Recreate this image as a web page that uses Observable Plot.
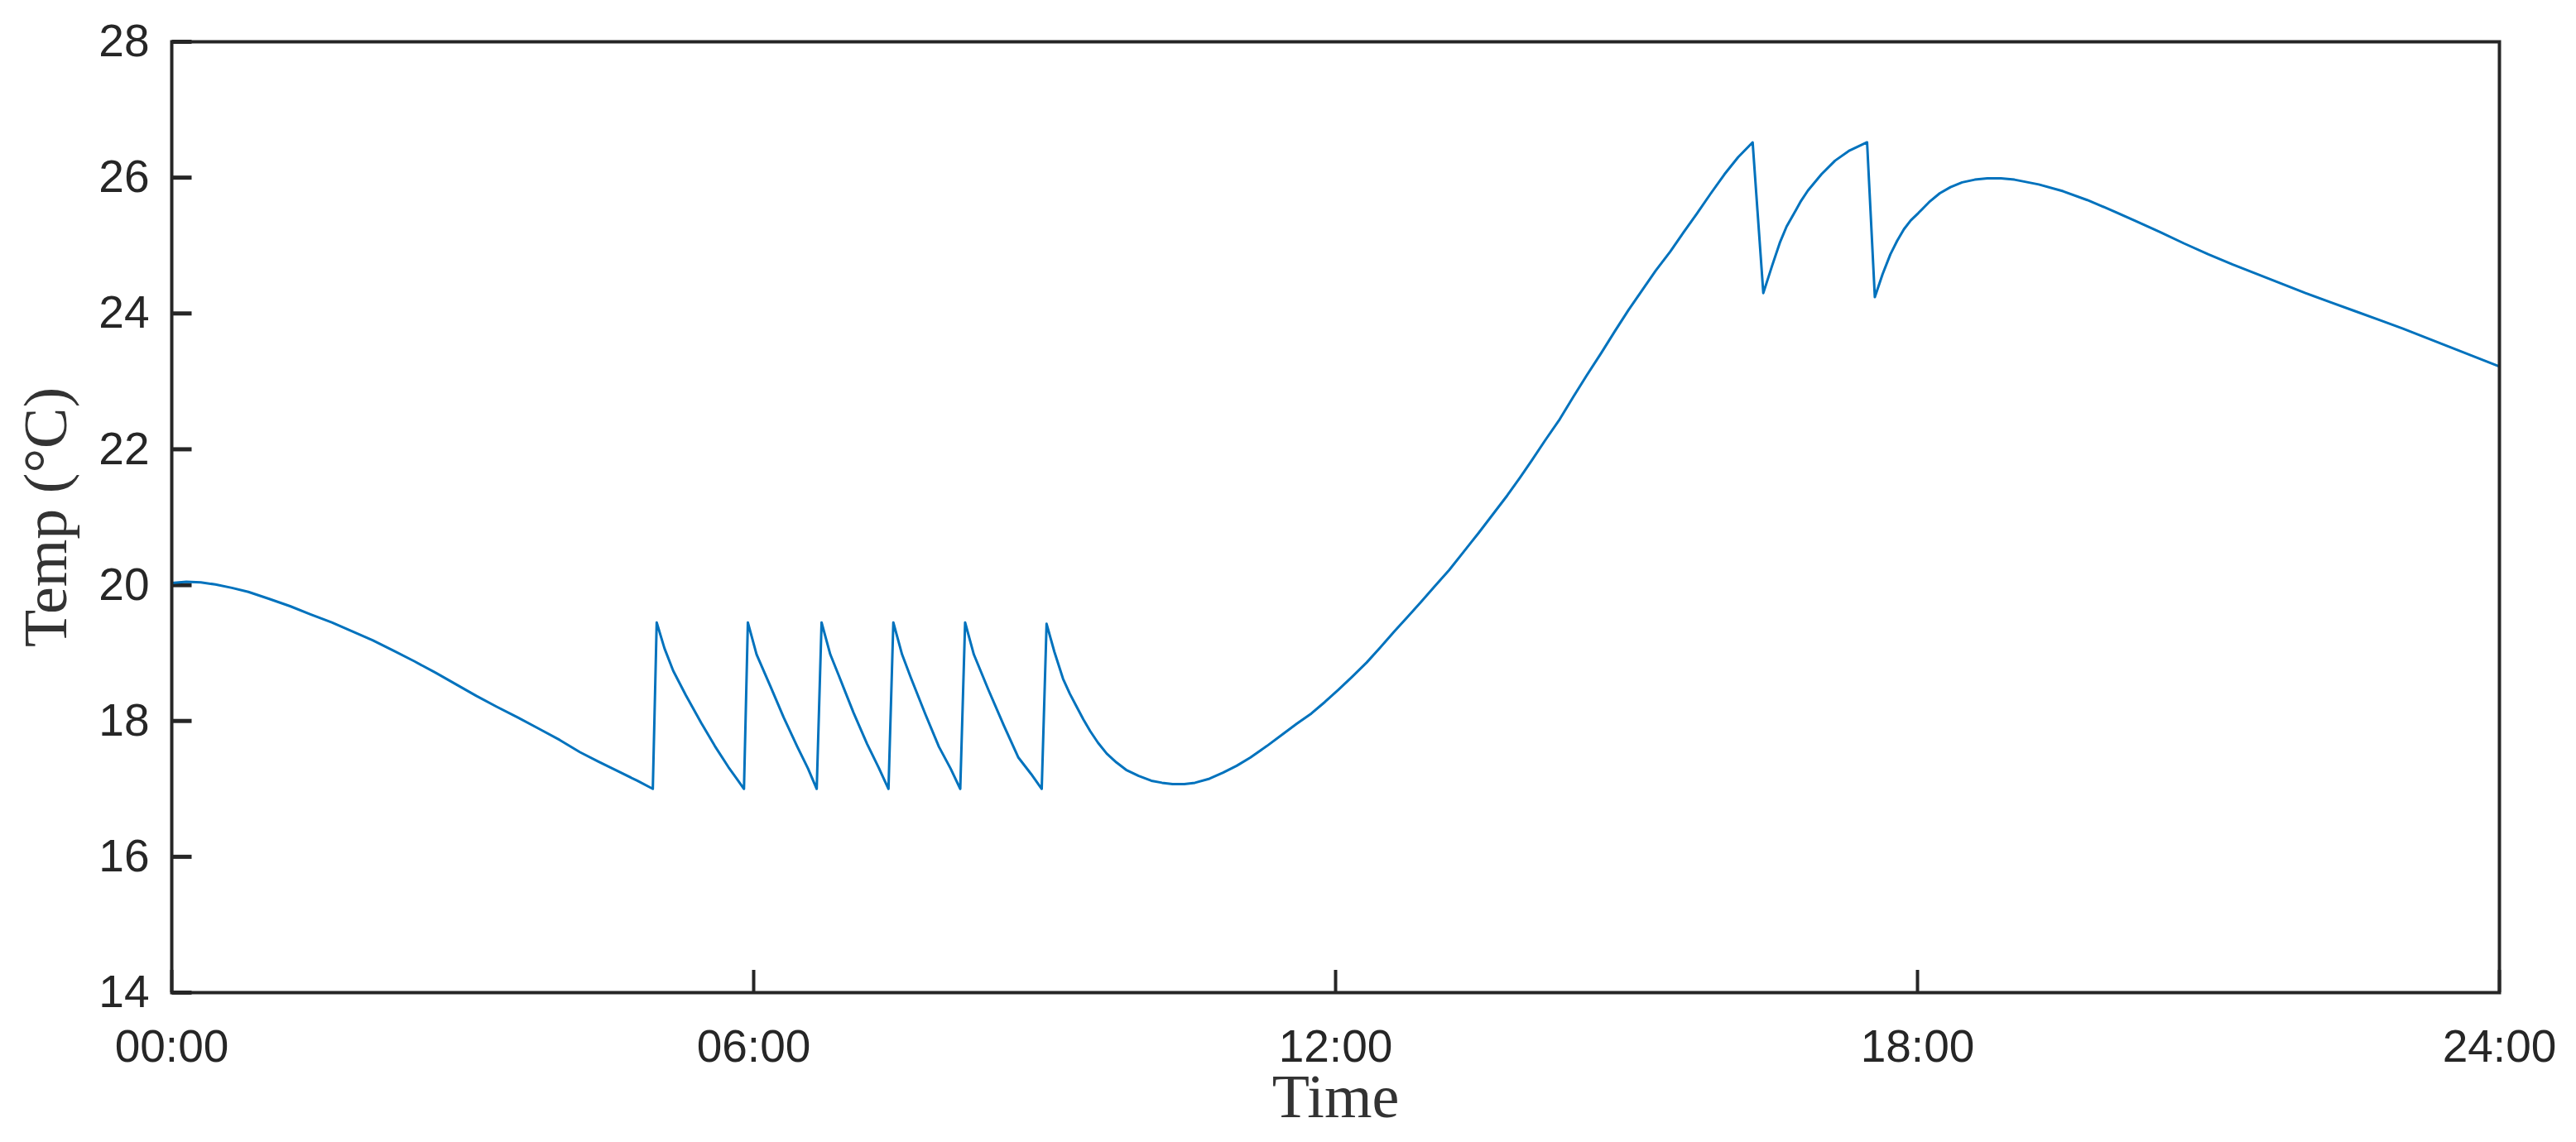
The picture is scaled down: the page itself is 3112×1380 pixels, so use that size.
<!DOCTYPE html>
<html>
<head>
<meta charset="utf-8">
<script src="https://cdn.jsdelivr.net/npm/d3@7"></script>
<script src="https://cdn.jsdelivr.net/npm/@observablehq/plot@0.6"></script>
<style>
  html, body { margin: 0; padding: 0; background: #ffffff; }
  #chart svg { display: block; }
</style>
</head>
<body>
<div id="chart"></div>
<script>
// Time of day in hours
const hours = [
  0.00, 0.15, 0.30, 0.45, 0.62, 0.79, 1.00, 1.22, 1.43, 1.65, 1.86, 2.07, 2.28, 2.50,
  2.72, 2.93, 3.14, 3.35, 3.57, 3.78, 4.00, 4.21, 4.40, 4.60, 4.80, 4.96,
  5.00, 5.08, 5.17, 5.30, 5.46, 5.60, 5.74, 5.82, 5.90,
  5.94, 6.03, 6.17, 6.31, 6.45, 6.56, 6.65,
  6.70, 6.79, 6.88, 7.03, 7.17, 7.29, 7.39,
  7.44, 7.53, 7.62, 7.77, 7.91, 8.03, 8.13,
  8.18, 8.27, 8.42, 8.58, 8.73, 8.86, 8.97,
  9.02, 9.10, 9.19, 9.26, 9.33, 9.40, 9.47, 9.55, 9.64, 9.74, 9.84, 9.97, 10.10, 10.21,
  10.32, 10.44, 10.55, 10.70, 10.84, 10.98, 11.12, 11.29, 11.46, 11.60, 11.75, 11.89,
  12.03, 12.17, 12.32, 12.46, 12.60, 12.74, 12.88, 13.02, 13.17, 13.32, 13.47, 13.62,
  13.77, 13.90, 14.02, 14.16, 14.31, 14.45, 14.59, 14.74, 14.88, 15.02, 15.16, 15.30,
  15.45, 15.59, 15.73, 15.87, 16.01, 16.15, 16.30,
  16.41, 16.50, 16.58, 16.65, 16.73, 16.80, 16.87, 17.01, 17.15, 17.30, 17.48,
  17.56, 17.64, 17.72, 17.79, 17.86, 17.93, 18.01, 18.12, 18.23, 18.34, 18.46, 18.59,
  18.72, 18.86, 19.00, 19.25, 19.50, 19.75, 20.00, 20.25, 20.50, 20.75, 21.00, 21.25,
  21.50, 21.75, 22.00, 22.25, 22.50, 22.75, 23.00, 23.25, 23.50, 23.75, 24.00
];
// Temperature in °C
const temps = [
  20.03, 20.05, 20.04, 20.01, 19.96, 19.90, 19.80, 19.69, 19.57, 19.45, 19.32, 19.19, 19.04, 18.88,
  18.71, 18.54, 18.37, 18.21, 18.05, 17.89, 17.72, 17.54, 17.40, 17.26, 17.12, 17.00,
  19.45, 19.07, 18.74, 18.38, 17.97, 17.63, 17.32, 17.16, 17.00,
  19.45, 18.98, 18.52, 18.05, 17.62, 17.30, 17.00,
  19.45, 18.98, 18.66, 18.12, 17.66, 17.31, 17.00,
  19.45, 18.98, 18.64, 18.10, 17.62, 17.30, 17.00,
  19.45, 18.98, 18.46, 17.93, 17.46, 17.22, 17.00,
  19.43, 19.02, 18.62, 18.40, 18.21, 18.02, 17.85, 17.68, 17.52, 17.39, 17.28, 17.19, 17.12, 17.09,
  17.07, 17.07, 17.09, 17.15, 17.24, 17.34, 17.46, 17.63, 17.81, 17.96, 18.11, 18.28,
  18.46, 18.65, 18.86, 19.08, 19.31, 19.53, 19.75, 19.98, 20.22, 20.49, 20.76, 21.04,
  21.32, 21.58, 21.83, 22.13, 22.44, 22.77, 23.09, 23.42, 23.74, 24.05, 24.34, 24.63,
  24.91, 25.20, 25.48, 25.77, 26.05, 26.30, 26.52,
  24.30, 24.70, 25.04, 25.28, 25.48, 25.66, 25.81, 26.05, 26.25, 26.40, 26.52,
  24.24, 24.58, 24.87, 25.07, 25.24, 25.37, 25.48, 25.64, 25.77, 25.86, 25.93, 25.97,
  25.99, 25.99, 25.97, 25.90, 25.80, 25.67, 25.52, 25.36, 25.20, 25.03, 24.87, 24.72,
  24.58, 24.44, 24.30, 24.17, 24.04, 23.91, 23.78, 23.64, 23.50, 23.36, 23.22
];
const xTicks = [0, 6, 12, 18, 24];
const yTicks = [14, 16, 18, 20, 22, 24, 26, 28];
const xLabel = "Time";
const yLabel = "Temp (°C)";

const data = hours.map((h, i) => ({h, t: temps[i]}));
const fmtX = h => String(h).padStart(2, "0") + ":00";
const fmtY = v => String(v);

const ink = "#262626";
const sans = "'Liberation Sans', Arial, Helvetica, sans-serif";
const serif = "'Liberation Serif', 'Times New Roman', Times, serif";

const width = 3112, marginLeft = 207, marginRight = 93;
const xDomain = [0, 24];
// inward y-tick length (24 px) expressed along the x scale
const yTickLen = 24 * (xDomain[1] - xDomain[0]) / (width - marginLeft - marginRight);

const chart = Plot.plot({
  width,
  height: 1380,
  marginLeft,
  marginRight,
  marginTop: 50,
  marginBottom: 181,
  style: {background: "#ffffff", color: ink, fontFamily: sans},
  x: {domain: xDomain, label: null},
  y: {domain: [14, 28], label: null},
  marks: [
    Plot.axisX(xTicks, {
      anchor: "bottom", tickSize: -27, tickPadding: 71, tickFormat: fmtX,
      fontSize: 55, fontFamily: sans, stroke: ink, fill: ink, strokeWidth: 4, label: null
    }),
    Plot.axisY(yTicks, {
      anchor: "left", tickSize: 0, tickPadding: 27, tickFormat: fmtY,
      fontSize: 55, fontFamily: sans, fill: ink, label: null
    }),
    // inward ticks on the left axis
    Plot.link(yTicks, {
      x1: () => xDomain[0], x2: () => xDomain[0] + yTickLen,
      y1: d => d, y2: d => d,
      stroke: ink, strokeWidth: 5, strokeLinecap: "butt"
    }),
    Plot.line(data, {x: "h", y: "t", stroke: "#0072BD", strokeWidth: 3, curve: "linear"}),
    Plot.frame({stroke: ink, strokeWidth: 4}),
    Plot.text([xLabel], {
      frameAnchor: "bottom", dy: 127, lineAnchor: "middle", textAnchor: "middle",
      fontSize: 74, fontFamily: serif, fill: "#333333"
    }),
    Plot.text([yLabel], {
      frameAnchor: "left", dx: -151, rotate: -90, lineAnchor: "middle", textAnchor: "middle",
      fontSize: 74, fontFamily: serif, fill: "#333333"
    })
  ]
});
document.getElementById("chart").appendChild(chart);
</script>
</body>
</html>
